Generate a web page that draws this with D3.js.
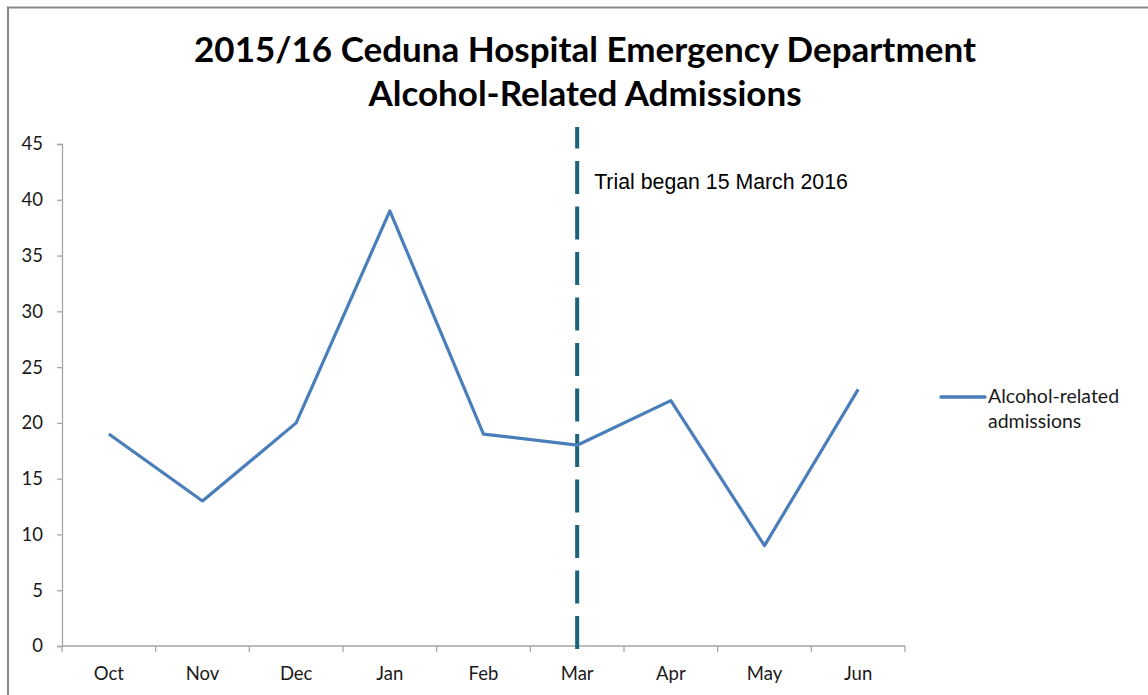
<!DOCTYPE html>
<html>
<head>
<meta charset="utf-8">
<script src="https://cdn.jsdelivr.net/npm/d3@7"></script>
<style>
  body { margin: 0; background: #fff; }
  svg { display: block; }
</style>
</head>
<body>
<div id="chart"></div>
<script>
const months = ["Oct", "Nov", "Dec", "Jan", "Feb", "Mar", "Apr", "May", "Jun"];
const admissions = [19, 13, 20, 39, 19, 18, 22, 9, 23];
const yTicks = [0, 5, 10, 15, 20, 25, 30, 35, 40, 45];
const titleLines = ["2015/16 Ceduna Hospital Emergency Department", "Alcohol-Related Admissions"];
const seriesName = ["Alcohol-related", "admissions"];
const trialMonth = "Mar";
const trialLabel = "Trial began 15 March 2016";

const width = 1148, height = 695;
const margin = { top: 144, left: 62, right: 243, bottom: 49 };

const svg = d3.select("#chart").append("svg")
    .attr("width", width)
    .attr("height", height);

// outer chart border (extends past the window on right/bottom)
svg.append("rect")
    .attr("x", 8).attr("y", 7.5)
    .attr("width", width + 20).attr("height", height + 20)
    .attr("fill", "none")
    .attr("stroke", "#878787")
    .attr("stroke-width", 2);

const x = d3.scaleBand()
    .domain(months)
    .range([margin.left, width - margin.right]);

const y = d3.scaleLinear()
    .domain([0, 45])
    .range([height - margin.bottom, margin.top]);

// title
svg.append("text")
    .attr("text-anchor", "middle")
    .attr("font-family", "Lato, sans-serif")
    .attr("font-weight", "bold")
    .attr("font-size", 35)
    .attr("fill", "#000")
    .selectAll("tspan")
    .data(titleLines)
    .join("tspan")
      .attr("x", 585)
      .attr("y", (d, i) => 62 + i * 44)
      .text(d => d);

// y axis
const yAxis = svg.append("g")
    .attr("transform", `translate(${margin.left},0)`)
    .call(d3.axisLeft(y).tickValues(yTicks).tickSize(5).tickPadding(14));
yAxis.selectAll("path, line").attr("stroke", "#a6a6a6").attr("stroke-width", 1.3);
yAxis.selectAll("text")
    .attr("font-family", "Lato, sans-serif")
    .attr("font-size", 18.5)
    .attr("fill", "#1a1a1a");

// x axis with ticks between categories
const xAxisG = svg.append("g")
    .attr("transform", `translate(0,${y(0)})`);
xAxisG.append("line")
    .attr("x1", x.range()[0]).attr("x2", x.range()[1])
    .attr("stroke", "#a6a6a6").attr("stroke-width", 1.3);
const edges = months.map(m => x(m)).concat([x.range()[1]]);
xAxisG.selectAll("line.tick")
    .data(edges)
    .join("line")
      .attr("class", "tick")
      .attr("x1", d => d).attr("x2", d => d)
      .attr("y1", 0).attr("y2", 6)
      .attr("stroke", "#a6a6a6").attr("stroke-width", 1.3);
xAxisG.selectAll("text")
    .data(months)
    .join("text")
      .attr("x", d => x(d) + x.bandwidth() / 2)
      .attr("y", 34)
      .attr("text-anchor", "middle")
      .attr("font-family", "Lato, sans-serif")
      .attr("font-size", 18.5)
      .attr("fill", "#1a1a1a")
      .text(d => d);

// trial marker
const trialX = x(trialMonth) + x.bandwidth() / 2;
svg.append("line")
    .attr("x1", trialX).attr("x2", trialX)
    .attr("y1", y(0) + 3).attr("y2", 127)
    .attr("stroke", "#1c6379")
    .attr("stroke-width", 4)
    .attr("stroke-dasharray", "33,12.5");
svg.append("text")
    .attr("x", trialX + 17)
    .attr("y", 189)
    .attr("font-family", "'Liberation Sans', Arial, sans-serif")
    .attr("font-size", 21.3)
    .attr("fill", "#000")
    .text(trialLabel);

// series line
const line = d3.line()
    .x((d, i) => x(months[i]) + x.bandwidth() / 2)
    .y(d => y(d));
svg.append("path")
    .datum(admissions)
    .attr("d", line)
    .attr("fill", "none")
    .attr("stroke", "#4a7ebb")
    .attr("stroke-width", 3.2)
    .attr("stroke-linejoin", "round");

// legend
const legend = svg.append("g").attr("transform", "translate(941,397)");
legend.append("line")
    .attr("x1", 0).attr("x2", 44)
    .attr("stroke", "#4a7ebb").attr("stroke-width", 3.5)
    .attr("stroke-linecap", "round");
legend.append("text")
    .attr("font-family", "Lato, sans-serif")
    .attr("font-size", 19.5)
    .attr("fill", "#1a1a1a")
    .selectAll("tspan")
    .data(seriesName)
    .join("tspan")
      .attr("x", 47)
      .attr("y", (d, i) => 6 + i * 25)
      .text(d => d);
</script>
</body>
</html>
